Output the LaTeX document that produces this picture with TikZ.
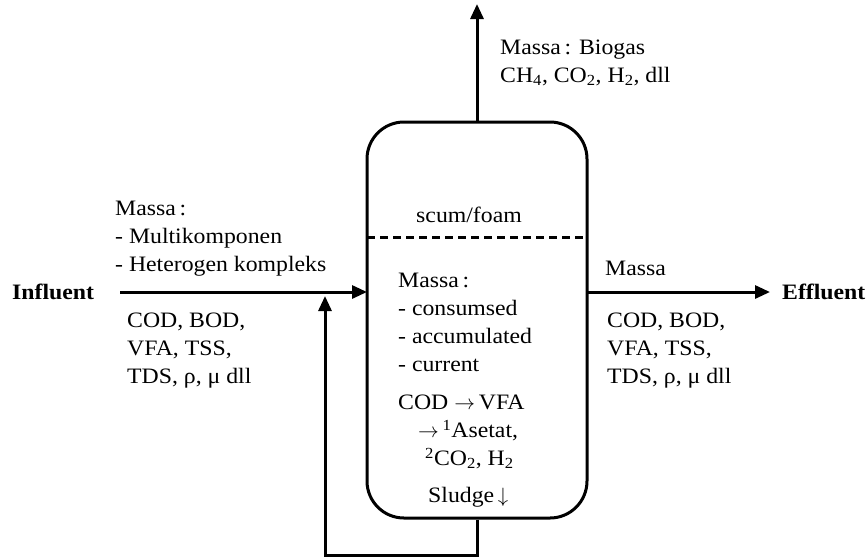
\documentclass[tikz,border=0pt]{standalone}
\usepackage{fontspec}
\setmainfont[FakeStretch=1.08]{Liberation Serif}
\usetikzlibrary{arrows.meta}
\begin{document}
\begin{tikzpicture}[x=1pt,y=-1pt,
  txt/.style={inner sep=0pt,align=left,font=\fontsize{22}{28}\selectfont},
  flow/.style={line width=3pt,-{Triangle[length=15pt,width=13pt]}},
  pipe/.style={line width=3pt}]
\useasboundingbox (0,0) rectangle (867,558);
% reactor
\node[draw,line width=3pt,rounded corners=37pt,minimum width=220pt,minimum height=396pt,inner sep=0pt] (reactor) at (477,320) {};
\coordinate (dl) at (367,237);
\coordinate (dr) at (587,237);
\draw[pipe,dash pattern=on 8pt off 5pt] (dl) -- (dr);
% coordinates
\coordinate (gasend) at (477,4);
\coordinate (instart) at (120,292);
\coordinate (inend) at (367,292);
\coordinate (outstart) at (587,292);
\coordinate (outend) at (770,292);
\coordinate (rb) at (477,555);
\coordinate (lb) at (325,555);
\coordinate (rtip) at (325,296);
% flows
\draw[flow] (reactor.north) -- (gasend);
\draw[flow] (instart) -- (inend);
\draw[flow] (outstart) -- (outend);
\draw[flow] (reactor.south) -- (rb) -- (lb) -- (rtip);
% labels
\node[txt,anchor=west] (influent) at (12,292) {\textbf{Influent}};
\node[txt,anchor=west] (effluent) at (782,292) {\textbf{Effluent}};
\node[txt,anchor=north west] (gas) at (500,40) {Massa\,: Biogas\\CH\textsubscript{4}, CO\textsubscript{2}, H\textsubscript{2}, dll};
\node[txt,anchor=north west] (inmass) at (115,201) {Massa\,:\\- Multikomponen\\- Heterogen kompleks};
\node[txt,anchor=north west] (inpar) at (127,313) {COD, BOD,\\VFA, TSS,\\TDS, ρ, μ dll};
\node[txt,anchor=north west] (outmass) at (605,261) {Massa};
\node[txt,anchor=north west] (outpar) at (607,313) {COD, BOD,\\VFA, TSS,\\TDS, ρ, μ dll};
\node[txt,anchor=center] (scum) at (469,215) {scum/foam};
\node[txt,anchor=north west] (rmass) at (398,273) {Massa\,:\\- consumsed\\- accumulated\\- current};
\node[txt,anchor=north west] (rcod) at (398,395) {COD\;$\rightarrow$\,VFA\\\hspace*{20pt}$\rightarrow$\,\textsuperscript{1}Asetat,\\\hspace*{27pt}\textsuperscript{2}CO\textsubscript{2}, H\textsubscript{2}};
\node[txt,anchor=west] (sludge) at (428,497) {Sludge\,$\downarrow$};
\end{tikzpicture}
\end{document}
